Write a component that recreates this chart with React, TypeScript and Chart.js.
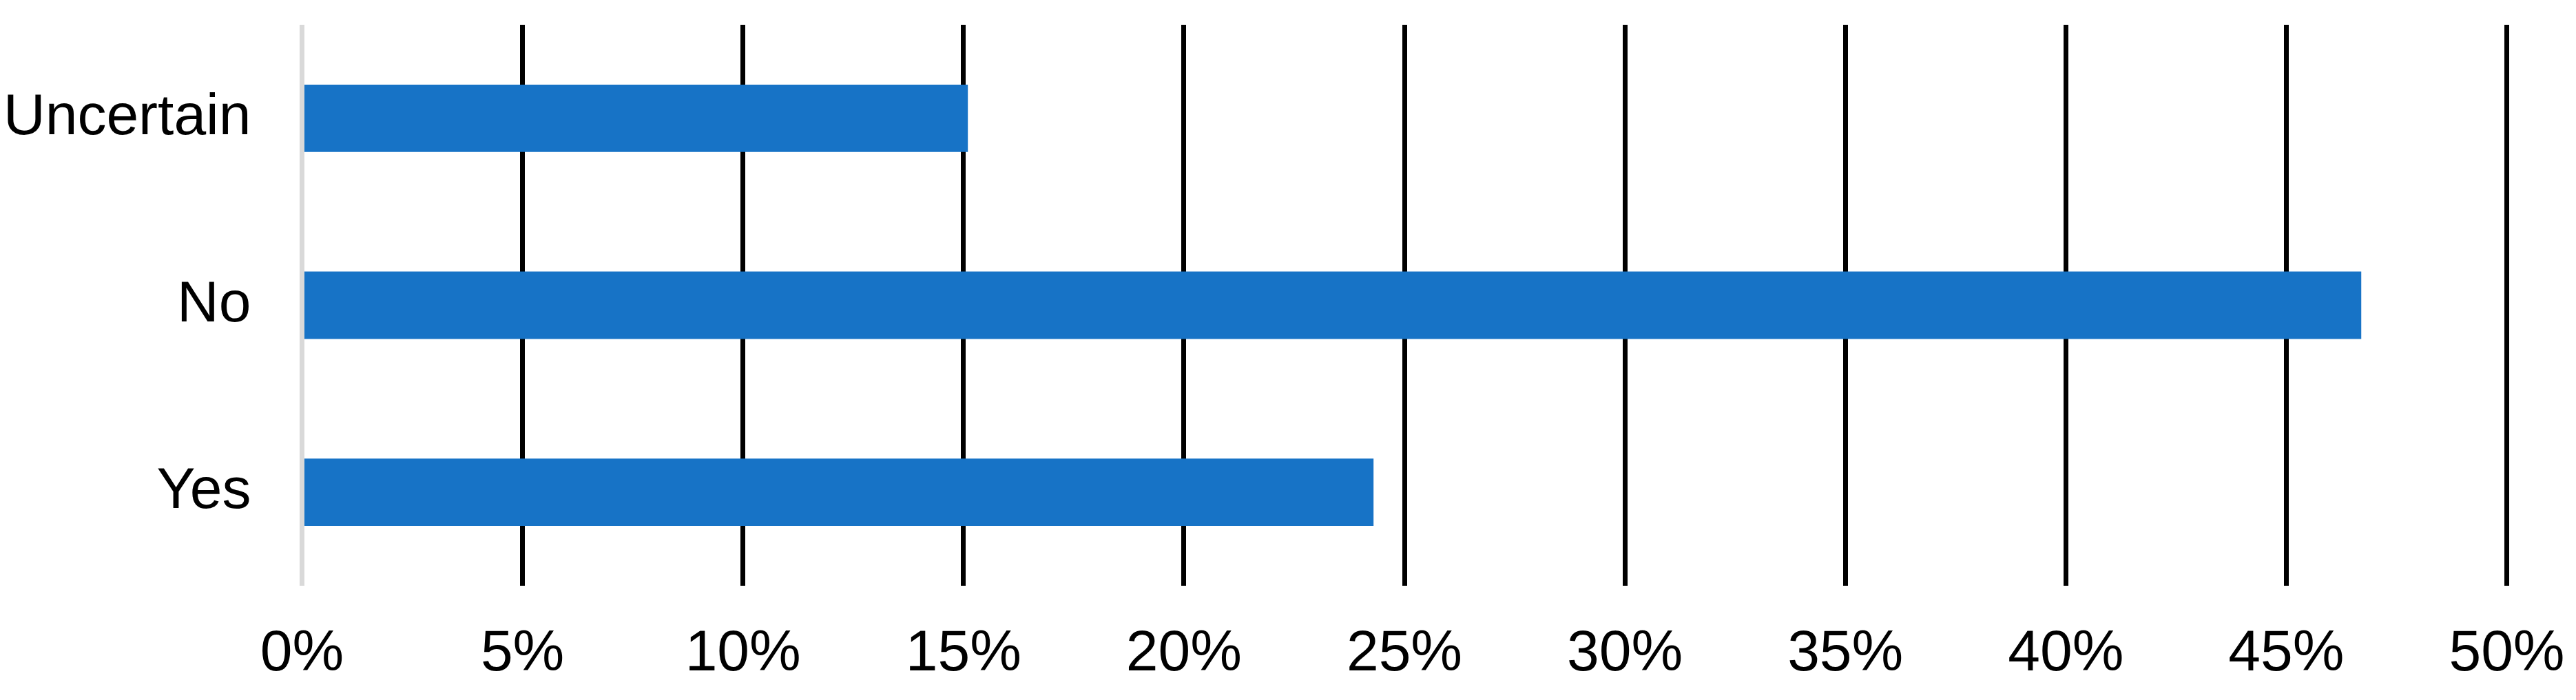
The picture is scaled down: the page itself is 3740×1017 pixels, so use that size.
import React, { useEffect, useRef } from "react";
import { Chart, registerables } from "chart.js";

Chart.register(...registerables);

const categories = ["Uncertain", "No", "Yes"];
const values = [15.1, 46.7, 24.3];
const tickStep = 5;
const axisMax = 50;

const FONT = "'Liberation Sans', Arial, sans-serif";

export default function App() {
  const ref = useRef<HTMLCanvasElement | null>(null);
  useEffect(() => {
    if (!ref.current) return;
    const chart = new Chart(ref.current, {
      type: "bar",
      data: {
        labels: categories,
        datasets: [
          {
            data: values,
            backgroundColor: "#1773C6",
            borderWidth: 0,
            barPercentage: 0.36,
            categoryPercentage: 1,
          },
        ],
      },
      options: {
        indexAxis: "y",
        animation: false,
        responsive: false,
        maintainAspectRatio: false,
        layout: { padding: { top: 36, right: 100.5, left: 0, bottom: 0 } },
        plugins: { legend: { display: false }, tooltip: { enabled: false } },
        scales: {
          x: {
            min: 0,
            max: axisMax,
            ticks: {
              stepSize: tickStep,
              color: "#000",
              padding: 49,
              maxRotation: 0,
              font: { family: FONT, size: 84 },
              callback: (v: any) => `${v}%`,
            },
            grid: {
              drawTicks: false,
              lineWidth: 7,
              color: (ctx: any) => (ctx.index === 0 ? "#d9d9d9" : "#000000"),
            },
            border: { display: false },
            afterFit: (s: any) => {
              s.height = 166;
              s.paddingLeft = 0;
              s.paddingRight = 0;
              s.paddingTop = 0;
              s.paddingBottom = 0;
            },
          },
          y: {
            ticks: {
              color: "#000",
              padding: 74,
              font: { family: FONT, size: 84 },
            },
            grid: { display: false, drawTicks: false },
            border: { display: false },
            afterFit: (s: any) => {
              s.width = 438.5;
              s.paddingLeft = 0;
              s.paddingRight = 0;
              s.paddingTop = 0;
              s.paddingBottom = 0;
            },
          },
        },
      },
    });
    return () => chart.destroy();
  }, []);
  return (
    <div style={{ position: "fixed", left: 0, top: 0, width: 3740, height: 1017, background: "#fff" }}>
      <canvas ref={ref} width={3740} height={1017} style={{ width: 3740, height: 1017 }} />
    </div>
  );
}
